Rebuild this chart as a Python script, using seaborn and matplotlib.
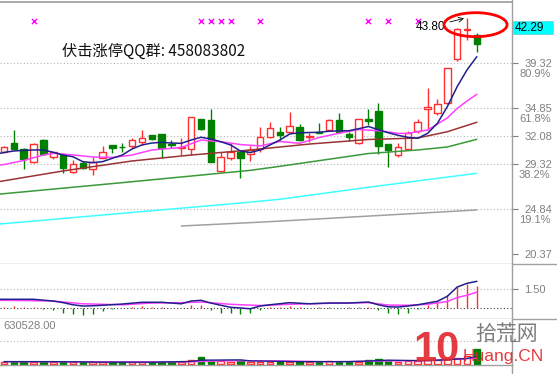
import numpy as np
import pandas as pd
import matplotlib
matplotlib.use("Agg")
import matplotlib.pyplot as plt
from matplotlib.patches import Ellipse, Rectangle
from matplotlib.lines import Line2D
import seaborn as sns

sns.set_theme(style="white")
plt.rcParams['font.family'] = ['Liberation Sans', 'DejaVu Sans']

# ---------------- data ----------------
opens  = [30.46, 31.42, 30.79, 29.47, 31.68, 30.00, 30.19, 28.51, 29.43, 28.80,
          29.93, 31.19, 30.99, 31.12, 31.45, 32.15, 32.25, 31.30, 30.90, 30.79,
          33.73, 33.67, 28.61, 29.93, 30.52, 30.26, 30.79, 31.95, 32.50, 32.50,
          33.00, 32.00, 32.50, 32.67, 33.67, 32.28, 31.42, 33.73, 34.56, 31.28,
          30.19, 30.76, 32.60, 34.73, 34.39, 35.38, 39.69, 42.60, 42.10]
highs  = [31.10, 32.67, 30.92, 31.35, 31.75, 30.50, 30.25, 29.70, 29.63, 30.00,
          31.09, 31.22, 31.42, 31.91, 32.67, 32.22, 32.30, 31.68, 31.91, 34.00,
          33.80, 34.76, 30.52, 31.42, 30.60, 31.12, 32.94, 33.44, 32.94, 34.43,
          33.27, 32.34, 33.40, 33.80, 34.33, 32.45, 33.80, 34.75, 35.35, 31.30,
          31.35, 32.60, 33.73, 36.81, 35.75, 38.80, 42.76, 43.80, 42.27]
lows   = [30.40, 30.69, 28.80, 29.40, 30.20, 29.80, 28.38, 28.40, 28.80, 28.21,
          29.88, 30.36, 30.52, 30.86, 31.19, 31.70, 29.87, 30.86, 30.19, 30.19,
          32.70, 29.50, 28.48, 29.70, 27.94, 29.60, 30.46, 31.90, 31.68, 32.40,
          31.60, 31.51, 32.34, 32.60, 32.40, 31.61, 31.30, 33.17, 30.29, 29.03,
          30.02, 30.70, 32.34, 32.67, 34.16, 35.30, 39.55, 41.60, 40.38]
closes = [31.02, 30.79, 29.77, 31.28, 30.26, 30.46, 28.87, 29.33, 28.87, 29.53,
          30.52, 30.86, 30.95, 31.68, 31.91, 31.75, 30.86, 31.22, 30.98, 33.96,
          32.77, 29.53, 30.02, 30.52, 29.87, 30.69, 32.01, 32.90, 32.18, 33.07,
          31.68, 32.10, 32.40, 33.67, 32.50, 31.95, 33.73, 33.60, 31.12, 30.69,
          31.02, 32.41, 33.50, 34.99, 35.25, 38.79, 42.66, 42.72, 41.18]
volumes = [27800, 27300, 28100, 27500, 26900, 20600, 27200, 20900, 20400, 21000,
           20700, 16500, 16800, 16600, 20500, 16400, 21100, 16700, 20600, 48300,
           89700, 34600, 34200, 27400, 34800, 27600, 27900, 27300, 20800, 27600,
           20700, 20500, 20900, 34500, 27800, 20600, 27500, 55200, 69000, 41400,
           27600, 34500, 41400, 55200, 55700, 69000, 82800, 110400, 207000]

# moving averages (candle index -> price)
ma5_idx = [-0.4] + list(range(49))
ma5_val = [30.36, 30.45, 30.59, 30.65, 30.69, 30.69, 30.46, 30.19, 30.02, 29.53, 29.43,
           29.53, 29.87, 30.19, 30.79, 31.19, 31.38, 31.45, 31.38, 31.35, 31.68,
           31.95, 31.78, 31.51, 31.19, 30.59, 30.44, 30.69, 31.19, 31.68, 32.28,
           32.40, 32.42, 32.45, 32.55, 32.58, 32.60, 32.80, 33.02, 32.70, 32.40,
           32.15, 31.95, 31.85, 32.34, 33.34, 34.98, 36.97, 38.63, 39.95]
ma10_idx = [-0.4, 0, 2, 4, 5, 7, 9, 11, 13, 15, 18, 20, 22, 24, 26, 28, 30, 32, 34,
            36, 38, 40, 41, 43, 45, 46, 47, 48]
ma10_val = [29.20, 29.25, 29.65, 30.19, 30.36, 30.20, 30.00, 29.95, 30.19, 30.69, 30.94,
            31.68, 31.51, 31.23, 31.09, 31.53, 31.35, 31.93, 32.35, 32.72, 32.60,
            32.34, 32.34, 32.67, 33.86, 34.81, 35.55, 36.21]
ma20_idx = [-0.4, 6, 13, 19, 25, 31, 37, 42, 45, 48]
ma20_val = [27.57, 28.61, 29.60, 30.19, 30.69, 31.28, 31.73, 31.88, 32.50, 33.44]
ma60_idx = [-0.4, 12, 25, 28, 37, 42, 45, 48]
ma60_val = [26.32, 27.45, 28.67, 29.07, 30.34, 30.69, 30.99, 31.75]
ma120_idx = [-0.4, 24, 28, 37, 48]
ma120_val = [23.35, 25.43, 25.80, 26.99, 28.38]
ma250_idx = [18, 27, 48]
ma250_val = [23.15, 23.58, 24.74]

# MACD panel
dif_idx = [-0.4, 0, 3, 5, 6, 7, 8, 9, 10, 12, 14, 16, 18, 19, 20, 21, 22, 23, 25, 26,
           27, 29, 31, 33, 35, 37, 38, 39, 40, 41, 42, 44, 45, 46, 47, 48]
dif_val = [0.70, 0.70, 0.70, 0.56, 0.43, 0.26, 0.16, 0.18, 0.22, 0.32, 0.46, 0.46,
           0.34, 0.56, 0.62, 0.40, 0.22, 0.06, -0.06, 0.16, 0.26, 0.43, 0.34, 0.40,
           0.40, 0.48, 0.26, 0.10, 0.08, 0.16, 0.26, 0.54, 0.94, 1.68, 1.98, 2.14]
dea_idx = [-0.4, 0, 5, 8, 12, 15, 18, 20, 23, 26, 29, 33, 37, 39, 41, 43, 45, 46, 47, 48]
dea_val = [0.62, 0.62, 0.56, 0.34, 0.26, 0.40, 0.43, 0.48, 0.30, 0.20, 0.30, 0.38,
           0.43, 0.24, 0.22, 0.30, 0.52, 0.84, 1.02, 1.28]
macd_bar = [0.10, 0.16, 0.05, 0.05, -0.05, -0.13, -0.40, -0.50, -0.53, -0.50,
            -0.27, -0.05, 0.02, 0.10, 0.20, 0.12, 0.05, -0.02, 0.03, 0.27,
            0.27, -0.19, -0.40, -0.40, -0.50, -0.40, -0.13, 0.05, 0.10, 0.20,
            0.08, 0.03, 0.08, 0.05, 0.03, 0.05, 0.08, 0.05, -0.19, -0.40,
            -0.51, -0.37, -0.05, 0.26, 0.48, 1.02, 1.68, 1.95, 1.74]

# volume moving averages
vma5_idx = [0, 5, 10, 15, 19, 20, 24, 25, 30, 35, 37, 39, 41, 43, 45, 47, 48]
vma5_val = [27600, 27600, 20700, 19300, 30400, 48300, 52400, 38600, 27600, 27600,
            35900, 48300, 44100, 41400, 55200, 71700, 102100]
vma10_idx = [0, 10, 19, 22, 28, 33, 38, 43, 48]
vma10_val = [27600, 24800, 24800, 38600, 38600, 26200, 34500, 42800, 75900]

# labels
price_ticks = [39.32, 34.85, 32.08, 29.32, 24.84, 20.37]
pct_labels = {39.32: '80.9%', 34.85: '61.8%', 29.32: '38.2%', 24.84: '19.1%'}
grid_levels = [39.32, 34.85, 32.08, 29.32, 24.84]
signal_idx = [3, 20, 21, 22, 23, 26, 37, 39, 42]
last_price = 42.29
high_value = 43.80
vol_max = 630528.00
title_text = '伏击涨停QQ群: 458083802'

# ---------------- figure ----------------
W, H = 557, 374
fig = plt.figure(figsize=(W / 100, H / 100), dpi=100)
fig.patch.set_facecolor('white')

def fy(py):
    return 1 - py / H

ax = fig.add_axes([0, fy(264), 512 / W, 262 / H])
axm = fig.add_axes([0, fy(319), 512 / W, 55 / H])
axv = fig.add_axes([0, fy(365), 512 / W, 46 / H])

GRAY = '#a0a0a0'
TXT = '#808080'
RED = '#ff2d2d'
GRN = '#008000'
LBL = 8

XL = (-0.41, 51.57)
for a in (ax, axm, axv):
    a.set_facecolor('white')
    a.set_xlim(*XL)
    a.set_xticks([])
    for s in ('left', 'top', 'bottom', 'right'):
        a.spines[s].set_visible(False)
    a.spines['right'].set_visible(True)
    a.spines['right'].set_color(GRAY)
    a.spines['bottom'].set_visible(True)
    a.spines['bottom'].set_color(GRAY)
    a.spines['right'].set_linewidth(1.0)
    a.spines['bottom'].set_linewidth(1.0)
    a.yaxis.tick_right()
    a.tick_params(axis='y', colors=TXT, length=4, width=0.8, pad=5, labelsize=LBL)
ax.spines['top'].set_visible(True)
ax.spines['top'].set_color(GRAY)

ax.set_ylim(19.38, 45.37)
axm.set_ylim(-0.88, 3.53)
axv.set_ylim(-20000, vol_max)

dot = (0, (1, 2))
for v in grid_levels:
    ax.axhline(v, color='#b4b4b4', lw=0.8, ls=dot, zorder=0)

# candles
idx = np.arange(len(opens))
o = np.array(opens); c = np.array(closes); h = np.array(highs); l = np.array(lows)
up = c >= o
lo = np.minimum(o, c); hi = np.maximum(o, c)
ax.vlines(idx[up], l[up], lo[up], color=RED, lw=1, zorder=2)
ax.vlines(idx[up], hi[up], h[up], color=RED, lw=1, zorder=2)
ax.vlines(idx[~up], l[~up], h[~up], color=GRN, lw=1, zorder=2)
ax.bar(idx[up], np.maximum(hi[up] - lo[up], 0.02), bottom=lo[up], width=0.66,
       facecolor='white', edgecolor=RED, lw=1, zorder=3)
ax.bar(idx[~up], np.maximum(hi[~up] - lo[~up], 0.02), bottom=lo[~up], width=0.66,
       facecolor=GRN, edgecolor=GRN, lw=1, zorder=3)

# moving averages
ma_specs = [
    (ma250_idx, ma250_val, '#a0a0a0'),
    (ma120_idx, ma120_val, '#40ffff'),
    (ma60_idx, ma60_val, '#3a9a3a'),
    (ma20_idx, ma20_val, '#9a3434'),
    (ma10_idx, ma10_val, '#ff40ff'),
    (ma5_idx, ma5_val, '#20208c'),
]
for xs, ys, col in ma_specs:
    sns.lineplot(x=xs, y=ys, ax=ax, color=col, lw=1.1, sort=False,
                 estimator=None, legend=False, zorder=4)

# signal markers
sns.scatterplot(x=signal_idx, y=[43.5] * len(signal_idx), ax=ax, marker='x',
                color='#ff00ff', s=14, linewidth=1.0, legend=False, zorder=5)

# title text
ax.text(0.121, 0.81, title_text, transform=ax.transAxes, fontsize=11,
        family=['Noto Sans CJK SC', 'DejaVu Sans'], va='center', ha='left', color='#111111')

# high annotation + ellipse
ax.annotate(f'{high_value:.2f}', xy=(46.7, high_value - 0.05), xytext=(44.8, 42.9),
            textcoords='data', ha='right', va='center', fontsize=8.5, color='black',
            arrowprops=dict(arrowstyle='->', color='black', lw=0.6, shrinkA=1, shrinkB=0),
            zorder=6)
ax.add_patch(Ellipse((47.87, 43.12), width=6.4, height=2.38, fill=False,
                     ec='#ff0000', lw=2.0, zorder=7))

# right axis labels
ax.set_yticks(price_ticks)
ax.set_yticklabels([f'{v:.2f}' for v in price_ticks])
ytr = ax.get_yaxis_transform()
for v, p in pct_labels.items():
    ax.annotate(p, xy=(1, v), xycoords=ytr, xytext=(7, -6), textcoords='offset pixels',
                ha='left', va='top', fontsize=LBL, color=TXT, annotation_clip=False)

# last price box
ax.add_patch(Rectangle((1.002, last_price - 0.1), 0.078, 1.25, transform=ytr,
                       facecolor='#00ffff', edgecolor='#60d0d0', lw=0.5,
                       clip_on=False, zorder=8))
ax.annotate(f'{last_price:.2f}', xy=(1.005, last_price + 0.52), xycoords=ytr,
            ha='left', va='center', fontsize=8.5, color='black',
            annotation_clip=False, zorder=9)

# MACD panel
axm.axhline(0, color='#404040', lw=0.8, ls=dot, zorder=0)
axm.axhline(1.50, color='#b4b4b4', lw=0.8, ls=dot, zorder=0)
bars = np.array(macd_bar)
axm.vlines(idx, 0, bars, colors=[RED if v > 0 else GRN for v in bars], lw=1, zorder=2)
sns.lineplot(x=dea_idx, y=dea_val, ax=axm, color='#ff40ff', lw=1.1, sort=False,
             estimator=None, legend=False, zorder=3)
sns.lineplot(x=dif_idx, y=dif_val, ax=axm, color='#20208c', lw=1.1, sort=False,
             estimator=None, legend=False, zorder=4)
axm.set_yticks([1.50])
axm.set_yticklabels(['1.50'])

# volume panel
vol = np.array(volumes)
axv.axhline(vol_max / 2, color='#b4b4b4', lw=0.8, ls=dot, zorder=0)
axv.bar(idx[up], vol[up], width=0.66, facecolor='white', edgecolor=RED, lw=1, zorder=2)
axv.bar(idx[~up], vol[~up], width=0.66, facecolor=GRN, edgecolor=GRN, lw=1, zorder=2)
sns.lineplot(x=vma10_idx, y=vma10_val, ax=axv, color='#ff40ff', lw=1.0, sort=False,
             estimator=None, legend=False, zorder=3)
sns.lineplot(x=vma5_idx, y=vma5_val, ax=axv, color='#20208c', lw=1.0, sort=False,
             estimator=None, legend=False, zorder=4)
axv.set_yticks([vol_max / 2])
axv.set_yticklabels([''])
axv.text(0.006, 0.96, f'{vol_max:.2f}', transform=axv.transAxes, ha='left', va='top',
         fontsize=LBL, color=TXT)
for a in (ax, axm, axv):
    a.set_xlabel('')
    a.set_ylabel('')

# separator extensions past the price axis
for py in (264, 319):
    fig.add_artist(Line2D([512 / W, 1], [fy(py), fy(py)], color=GRAY, lw=1.0))
fig.add_artist(Line2D([512 / W, 512 / W], [fy(365), 0], color=GRAY, lw=1.0))
fig.add_artist(Line2D([512 / W, 512 / W], [1, fy(2)], color=GRAY, lw=1.0))

# watermark
fig.text(436 / W, fy(350), '10', fontsize=30, fontweight='bold', color='#e0262c',
         ha='center', va='center', alpha=0.9)
fig.text(506 / W, fy(334), '拾荒网', fontsize=15, color='#707070', ha='center', va='center',
         family=['Noto Sans CJK SC', 'DejaVu Sans'], alpha=0.9)
fig.text(503 / W, fy(357), 'Huang.CN', fontsize=12.5, color='#e0262c', ha='center',
         va='center', alpha=0.9)

fig.savefig('out.png', dpi=100, facecolor='white')
